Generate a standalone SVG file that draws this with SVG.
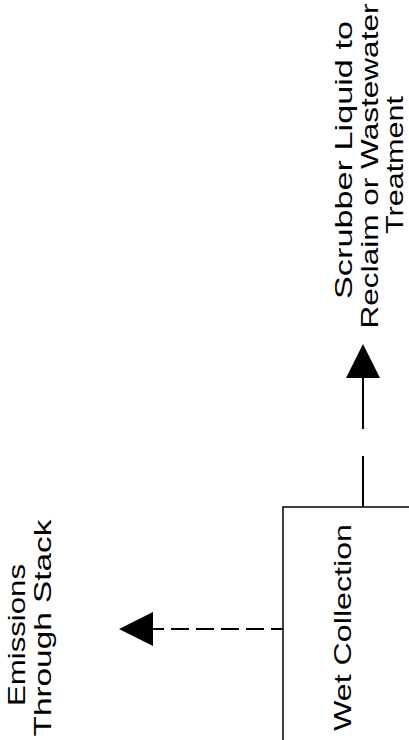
<svg xmlns="http://www.w3.org/2000/svg" width="409" height="740" viewBox="0 0 409 740">
<style>
.t{font-family:"Liberation Sans",Arial,sans-serif;font-size:24px;fill:#000;text-anchor:middle}
.ln{stroke:#000;stroke-width:2;fill:none}
.box{stroke:#000;stroke-width:1.5;fill:#fff}
</style>
<defs>
<marker id="ah" viewBox="0 0 34 34" refX="0" refY="17" markerWidth="34" markerHeight="34" markerUnits="userSpaceOnUse" orient="auto">
<path d="M0,0 L34,17 L0,34 Z" fill="#000"/>
</marker>
</defs>
<rect width="409" height="740" fill="#fff"/>
<g id="connectors">
<line class="ln" x1="283" y1="629" x2="153" y2="629" stroke-dasharray="12 7 18 7 18 7 18 7 18 7 18 7" marker-end="url(#ah)"/>
<line class="ln" x1="363" y1="507" x2="363" y2="456"/>
<line class="ln" x1="363" y1="429" x2="363" y2="378" marker-end="url(#ah)"/>
</g>
<g id="wet-collection">
<path class="box" d="M283,740 L283,507 L409,507"/>
<text class="t" transform="translate(351,627.5) rotate(-90)" textLength="207" lengthAdjust="spacingAndGlyphs">Wet Collection</text>
</g>
<g id="emissions">
<text class="t" transform="translate(25,635) rotate(-90)" textLength="142" lengthAdjust="spacingAndGlyphs">Emissions</text>
<text class="t" transform="translate(51,628) rotate(-90)" textLength="217" lengthAdjust="spacingAndGlyphs">Through Stack</text>
</g>
<g id="scrubber-liquid">
<text class="t" transform="translate(352,160) rotate(-90)" textLength="278" lengthAdjust="spacingAndGlyphs">Scrubber Liquid to</text>
<text class="t" transform="translate(378,166) rotate(-90)" textLength="325" lengthAdjust="spacingAndGlyphs">Reclaim or Wastewater</text>
<text class="t" transform="translate(403,165) rotate(-90)" textLength="138" lengthAdjust="spacingAndGlyphs">Treatment</text>
</g>
</svg>
